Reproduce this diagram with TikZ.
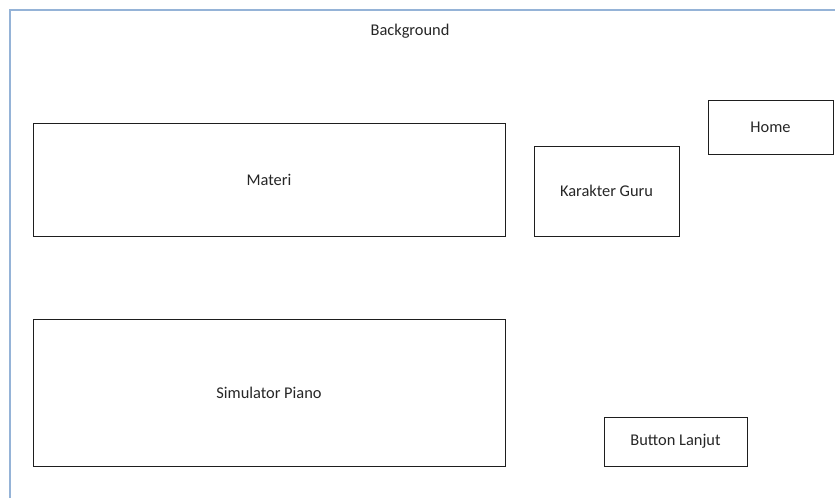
\documentclass[tikz,border=0pt]{standalone}
\usepackage{fontspec}
\setmainfont{Carlito}
\definecolor{framecol}{RGB}{149,179,215}
\definecolor{boxline}{RGB}{30,30,30}

\begin{document}
\begin{tikzpicture}[x=1pt,y=-1pt,
  box/.style={draw=boxline, line width=1pt, inner sep=0pt, font=\fontsize{16.4}{18}\selectfont, text=black!85}]

\useasboundingbox (0,0) rectangle (835,498);

% page frame
\coordinate (fbl) at (10,498);
\coordinate (ftl) at (10,10);
\coordinate (ftr) at (835,10);
\draw [framecol, line width=1.6pt] (fbl) -- (ftl) -- (ftr);

\node [font=\fontsize{16.4}{18}\selectfont, text=black!85] (bg) at (410,31) {Background};

\begin{scope}
\node [box, minimum width=472pt, minimum height=113pt] (materi) at (269,179.5) {Materi};
\node [box, minimum width=472pt, minimum height=147pt] (piano) at (269,392.5) {Simulator Piano};
\node [box, minimum width=145pt, minimum height=90pt] (guru) at (606.5,191) {Karakter Guru};
\node [box, minimum width=125pt, minimum height=54pt] (home) at (770.5,127) {Home};
\node [box, minimum width=143pt, minimum height=49pt] (lanjut) at (675.5,441.5) {Button Lanjut};
\end{scope}

\end{tikzpicture}
\end{document}
